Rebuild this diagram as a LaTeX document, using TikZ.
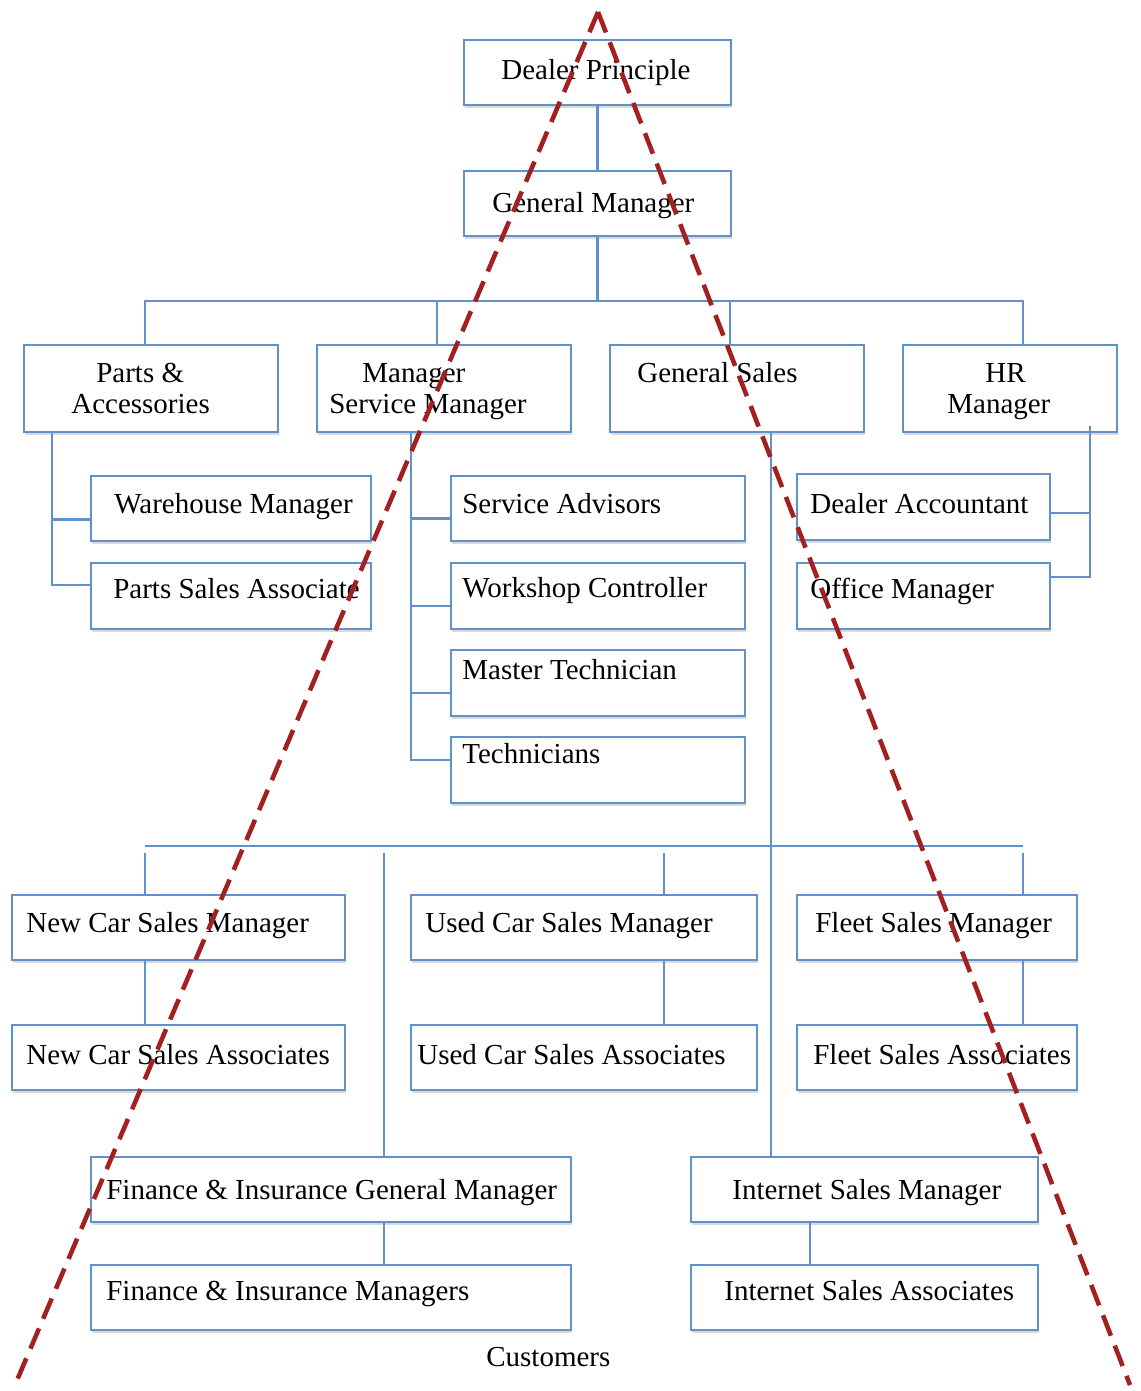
\documentclass[tikz,border=0pt]{standalone}
\usepackage{fontspec}
\setmainfont{Liberation Serif}
\usepackage{tikz}
\usetikzlibrary{calc,fit,shadows}
\definecolor{boxblue}{RGB}{96,145,202}
\definecolor{pyramidred}{RGB}{163,32,32}
\newcommand{\orgfont}{\fontsize{16.5}{19}\selectfont}

\tikzset{
  orgbox/.style={draw=boxblue, line width=1.6pt, fill=white, inner sep=0pt,
    drop shadow={opacity=0.3, shadow xshift=0.8pt, shadow yshift=-1.5pt}},
  boxtext/.style={font=\orgfont, inner sep=0pt, anchor=base west},
  link/.style={draw=boxblue, line width=1.4pt},
  pyramid/.style={draw=pyramidred, line width=2.6pt, dash pattern=on 12.5pt off 6pt}
}

\begin{document}
\begin{tikzpicture}[x=0.02cm, y=-0.02cm]
  \useasboundingbox (0,0) rectangle (1141,1391);

  % Boxes
  \foreach \id/\xa/\ya/\xb/\yb in {
    dp/464/40/731/105, gm/464/171/731/236,
    pa/24/345/278/432, ms/317/345/571/432, gs/610/345/864/432, hr/903/345/1117/432,
    wm/91/476/371/541, psa/91/563/371/629,
    sa/451/476/745/541, wc/451/563/745/629, mt/451/650/745/716, tech/451/737/745/803,
    da/797/474/1050/540, om/797/563/1050/629,
    ncsm/12/895/345/960, ncsa/12/1025/345/1090,
    ucsm/411/895/757/960, ucsa/411/1025/757/1090,
    fsm/797/895/1077/960, fsa/797/1025/1077/1090,
    figm/91/1157/571/1222, fim/91/1265/571/1330,
    ism/691/1157/1038/1222, isa/691/1265/1038/1330%
  }{
    \node[orgbox, fit={(\xa,\ya) (\xb,\yb)}] (\id) {};
  }

  % Top of the chart
  \coordinate (bus1) at (597.5,301);
  \draw[link] (dp) -- (gm);
  \draw[link] (gm.south) -- (bus1);
  \foreach \id/\dx in {pa/-6, ms/-7, gs/-7, hr/13}{
    \draw[link] ($(\id.north)+(\dx,0)$) |- (bus1);
  }

  % Parts, service and office branches
  \draw[link] ($(pa.south)+(-99,0)$) |- ($(wm.west)+(0,11)$);
  \draw[link] ($(pa.south)+(-99,0)$) |- ($(psa.west)+(0,-11)$);
  \foreach \id/\dy in {sa/10, wc/10, mt/10, tech/-10}{
    \draw[link] ($(ms.south)+(-33,0)$) |- ($(\id.west)+(0,\dy)$);
  }
  \draw[link] ($(hr.south)+(80,-7)$) |- ($(da.east)+(0,6)$);
  \draw[link] ($(hr.south)+(80,-7)$) |- ($(om.east)+(0,-19)$);

  % Sales bus
  \coordinate (bus2) at (771,846);
  \draw[link] ($(gs.south)+(34,0)$) coordinate (gsdrop) -- (gsdrop |- ism.north);
  \draw[link] ($(ncsm.north)+(-33.5,0)$) coordinate (nd) -- (nd |- 0,853);
  \draw[link] ($(fsm.north)+(86,0)$) coordinate (fd) -- (fd |- 0,853);
  \draw[link] ($(ucsm.north)+(80,0)$) coordinate (ud) -- (ud |- 0,853);
  \draw[link] ($(figm.north)+(53,0)$) coordinate (id) -- (id |- 0,853);
  \draw[link] (nd |- bus2) -- (fd |- bus2);
  \foreach \up/\dn/\dx in {ncsm/ncsa/-33.5, ucsm/ucsa/80, fsm/fsa/86, figm/fim/53, ism/isa/-54.5}{
    \draw[link] ($(\up.south)+(\dx,0)$) coordinate (c) -- (c |- \dn.north);
  }

  % Labels
  \foreach \id/\x/\y/\txt in {
    dp-t/501/80/Dealer Principle, gm-t/492/213/General Manager,
    pa-t1/96/383/Parts \&, pa-t2/71/414/Accessories,
    ms-t1/362/383/Manager, ms-t2/329/414/Service Manager,
    gs-t/637/383/General Sales, hr-t1/985/383/HR, hr-t2/947/414/Manager,
    wm-t/114/513/Warehouse Manager, psa-t/113/598/Parts Sales Associate,
    sa-t/462/513/Service Advisors, wc-t/462/597/Workshop Controller,
    mt-t/462/679/Master Technician, tech-t/462/763/Technicians,
    da-t/810/513/Dealer Accountant, om-t/810/598/Office Manager,
    ncsm-t/26/932/New Car Sales Manager, ncsa-t/26/1064/New Car Sales Associates,
    ucsm-t/425/932/Used Car Sales Manager, ucsa-t/417/1064/Used Car Sales Associates,
    fsm-t/815/932/Fleet Sales Manager, fsa-t/813/1064/Fleet Sales Associates,
    figm-t/106/1199/Finance \& Insurance General Manager,
    fim-t/106/1300/Finance \& Insurance Managers,
    ism-t/732/1199/Internet Sales Manager, isa-t/724/1300/Internet Sales Associates,
    cust/486/1366/Customers%
  }{
    \node[boxtext] (\id) at (\x,\y) {\txt};
  }

  % Pyramid outline
  \coordinate (apex) at (598,12);
  \coordinate (lfoot) at (15,1385);
  \coordinate (rfoot) at (1130,1385);
  \draw[pyramid] (apex) -- (lfoot);
  \draw[pyramid] (apex) -- (rfoot);
\end{tikzpicture}
\end{document}
